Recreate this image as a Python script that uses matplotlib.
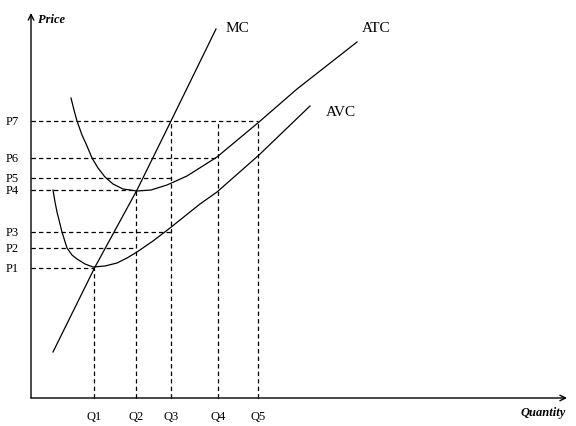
import matplotlib
matplotlib.use("Agg")
import matplotlib.pyplot as plt

# quantities and prices (chart units, origin at the axes corner)
q_names = ["Q1", "Q2", "Q3", "Q4", "Q5"]
q_vals = [63, 105, 140, 187, 227]
p_names = ["P1", "P2", "P3", "P4", "P5", "P6", "P7"]
p_vals = [130, 150, 166, 208, 220, 240, 277]

# how far each guide line runs
p_reach = [63, 105, 140, 105, 140, 187, 227]   # horizontal, to this quantity
q_reach = [130, 208, 277, 277, 277]            # vertical, up to this price

# cost curves
mc_x = [22, 64, 106, 140, 185]
mc_y = [46, 131, 208, 277, 369]

atc_x = [40, 43, 46, 51, 56, 61, 67, 74, 82, 92, 106, 120, 136, 156, 186, 228, 266, 326]
atc_y = [300, 288, 277, 263, 252, 240, 230, 221, 214, 209, 207, 208, 213, 222, 241, 276, 309, 356]

avc_x = [22, 24, 26, 31, 36, 41, 46, 54, 62, 74, 86, 96, 106, 122, 139, 169, 186, 228, 279]
avc_y = [208, 196, 186, 166, 150, 143, 139, 134, 131, 132, 135, 140, 146, 157, 170, 194, 206, 243, 292]

fig = plt.figure(figsize=(5.76, 4.27), dpi=100)
ax = fig.add_axes([0, 0, 1, 1])
ax.set_xlim(-31, 545)
ax.set_ylim(-28, 399)
ax.axis("off")

serif = "Liberation Serif"

# axes with open arrow heads
ax.annotate("", xy=(0, 385), xytext=(0, 0),
            arrowprops=dict(arrowstyle="->", lw=1.0, color="black", shrinkA=0, shrinkB=0))
ax.annotate("", xy=(536, 0), xytext=(0, 0),
            arrowprops=dict(arrowstyle="->", lw=1.0, color="black", shrinkA=0, shrinkB=0))
ax.text(7, 379, "Price", fontsize=9, style="italic", weight="bold", family=serif, va="center")
ax.text(512, -14, "Quantity", fontsize=9, style="italic", weight="bold", family=serif,
        ha="center", va="center")

# guide lines
for p, reach in zip(p_vals, p_reach):
    ax.plot([0, reach], [p, p], color="black", lw=0.9, ls=(0, (3.5, 2.5)))
for q, reach in zip(q_vals, q_reach):
    ax.plot([q, q], [0, reach], color="black", lw=0.9, ls=(0, (3.5, 2.5)))

# curves
ax.plot(mc_x, mc_y, color="black", lw=0.9)
ax.plot(atc_x, atc_y, color="black", lw=0.9)
ax.plot(avc_x, avc_y, color="black", lw=0.9)

ax.text(195, 370, "MC", fontsize=11, family=serif, va="center")
ax.text(331, 370, "ATC", fontsize=11, family=serif, va="center")
ax.text(295, 287, "AVC", fontsize=11, family=serif, va="center")

for name, p in zip(p_names, p_vals):
    ax.text(-12, p, name, fontsize=9, family=serif, ha="right", va="center")
for name, q in zip(q_names, q_vals):
    ax.text(q, -18, name, fontsize=9, family=serif, ha="center", va="center")

fig.savefig("out.png", dpi=100)
